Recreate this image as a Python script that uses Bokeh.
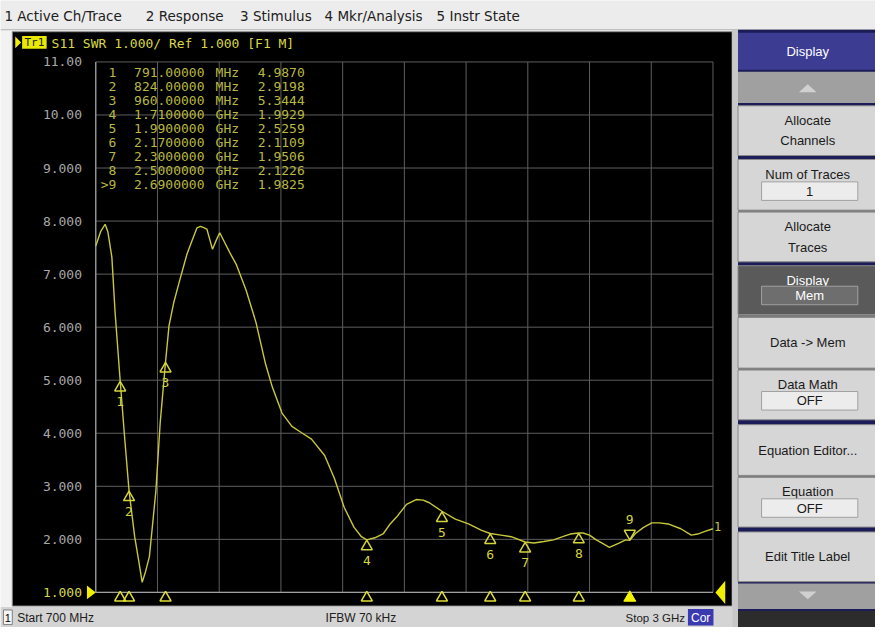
from bokeh.plotting import figure
from bokeh.models import Range1d
from bokeh.core.properties import value
from bokeh.embed import file_html
from bokeh.resources import INLINE

# ---------------- data ----------------
freq_mhz = [700, 718, 735, 745, 760, 772, 791, 809, 824, 845, 860, 873, 886, 900, 924,
            940, 960, 973, 990, 1010, 1040, 1060, 1077, 1090, 1100, 1114, 1125, 1135,
            1150, 1162, 1180, 1199, 1223, 1260, 1297, 1333, 1358, 1394, 1431, 1467,
            1504, 1553, 1589, 1626, 1662, 1690, 1710, 1740, 1772, 1797, 1821, 1858,
            1894, 1920, 1943, 1990, 2040, 2089, 2138, 2170, 2210, 2248, 2300, 2333,
            2370, 2406, 2440, 2468, 2500, 2516, 2540, 2565, 2590, 2614, 2650, 2675,
            2690, 2711, 2740, 2772, 2800, 2833, 2880, 2919, 2943, 2970, 3000]
swr = [7.53, 7.80, 7.94, 7.80, 7.32, 6.28, 4.99, 3.83, 2.92, 2.05, 1.60, 1.19, 1.40,
       1.68, 2.91, 4.19, 5.34, 6.03, 6.45, 6.83, 7.38, 7.65, 7.87, 7.90, 7.88, 7.85,
       7.65, 7.47, 7.65, 7.78, 7.60, 7.41, 7.19, 6.70, 6.09, 5.30, 4.87, 4.38, 4.13,
       4.01, 3.89, 3.58, 3.15, 2.60, 2.23, 2.05, 1.99, 2.03, 2.11, 2.29, 2.42, 2.66,
       2.75, 2.74, 2.69, 2.53, 2.38, 2.29, 2.17, 2.11, 2.08, 2.05, 1.95, 1.93, 1.96,
       1.99, 2.05, 2.10, 2.12, 2.12, 2.08, 1.99, 1.92, 1.85, 1.93, 1.99, 1.98, 2.11,
       2.22, 2.31, 2.31, 2.29, 2.20, 2.08, 2.10, 2.15, 2.20]

marker_ids = ["1", "2", "3", "4", "5", "6", "7", "8", "9"]
marker_freq_mhz = [791, 824, 960, 1710, 1990, 2170, 2300, 2500, 2690]
marker_freq_text = ["791.00000", "824.00000", "960.00000", "1.7100000", "1.9900000",
                    "2.1700000", "2.3000000", "2.5000000", "2.6900000"]
marker_units = ["MHz", "MHz", "MHz", "GHz", "GHz", "GHz", "GHz", "GHz", "GHz"]
marker_swr = [4.9870, 2.9198, 5.3444, 1.9929, 2.5259, 2.1109, 1.9506, 2.1226, 1.9825]
active_marker = "9"

y_ticks = [1, 2, 3, 4, 5, 6, 7, 8, 9, 10, 11]
y_tick_labels = ["1.000", "2.000", "3.000", "4.000", "5.000", "6.000", "7.000",
                 "8.000", "9.000", "10.00", "11.00"]
x_start_mhz, x_stop_mhz, x_divisions = 700, 3000, 10

trace_title = "S11  SWR 1.000/ Ref 1.000 [F1 M]"
menu_items = ["1 Active Ch/Trace", "2 Response", "3 Stimulus", "4 Mkr/Analysis", "5 Instr State"]
status_texts = ["Start 700 MHz", "IFBW 70 kHz", "Stop 3 GHz"]

# ---------------- geometry (reference pixel space) ----------------
REF_W, REF_H = 891, 643
GX0, GX1 = 97.0, 725.5
GY_TOP, GY_BOT = 63.0, 607.0
Y_MIN, Y_MAX = 1.0, 11.0
ppm = (GX1 - GX0) / (x_stop_mhz - x_start_mhz)
ppu = (GY_BOT - GY_TOP) / (Y_MAX - Y_MIN)

p = figure(width=875, height=627, x_range=Range1d(0, REF_W), y_range=Range1d(REF_H, 0),
           output_backend="svg", toolbar_location=None, tools="", min_border=0,
           x_axis_location=None, y_axis_location=None,
           background_fill_color="#f2f2f2", border_fill_color="#f2f2f2",
           outline_line_color=None)
p.grid.visible = False
p.extra_x_ranges = {"f": Range1d(x_start_mhz - GX0 / ppm, x_stop_mhz + (REF_W - GX1) / ppm)}
p.extra_y_ranges = {"s": Range1d(Y_MIN - (REF_H - GY_BOT) / ppu, Y_MAX + GY_TOP / ppu)}
D = dict(x_range_name="f", y_range_name="s")

UI = value("Liberation Sans")
MENU = value("DejaVu Sans")
MONO = value("DejaVu Sans Mono")


def box(l, t, r, b, fill, line=None, lw=1):
    p.quad(left=[l], right=[r], top=[t], bottom=[b], fill_color=fill,
           line_color=line, line_width=lw)


def txt(x, y, s, color="#000000", size="13px", font=UI, align="left", base="middle"):
    p.text(x=[x], y=[y], text=[s], text_color=color, text_font_size=size,
           text_font=font, text_align=align, text_baseline=base)


# menu bar
box(0, 0, REF_W, 30, "#ececec")
p.segment(x0=[0], y0=[30], x1=[REF_W], y1=[30], line_color="#b0b0b0")
menu_x = [4, 148, 244, 330, 444]
for mx, m in zip(menu_x, menu_items):
    txt(mx, 16, m, "#202020", "13.5px", MENU)

# black instrument window
box(12, 32, 745, 621, "#000000", "#8c8c8c")

# status bar
box(0, 622, 745, REF_H, "#d4d4d4")
box(3, 625, 12, 640, "#f4f4f4", "#808080")
txt(7.5, 633, "1", "#000000", "11px", align="center")
txt(17, 633, status_texts[0], "#202020", "12px")
txt(331, 633, status_texts[1], "#202020", "12px")
txt(697, 633, status_texts[2], "#202020", "11.5px", align="right")
box(700, 624, 726, 641, "#3a3ab0")
txt(713, 633, "Cor", "#ffffff", "12px", align="center")

# right soft-key panel
box(745, 30, 751, REF_H, "#c8c8c8")
box(751, 30, REF_W, REF_H, "#1c1c58")
box(751, 33, REF_W, 71, "#3c3c92")
txt(822, 52, "Display", "#ffffff", "13px", align="center")
box(751, 73, REF_W, 105, "#a0a0a0")
p.patch(x=[813, 822, 831], y=[94, 86, 94], fill_color="#d0d0d0", line_color=None)
for t, b in [(215, 217), (322, 325), (377, 379), (487, 489)]:
    box(751, t, REF_W, b, "#7a7a7a")


def key(t, b, lines, fill="#d6d6d6", color="#1a1a1a", field=None, field_fill="#ececec",
        field_color="#1a1a1a"):
    box(751, t, REF_W, b, fill, "#8a8a8a")
    n = len(lines)
    for i, s in enumerate(lines):
        yy = (t + b) / 2 - (10.5 * (n - 1)) + 21 * i if field is None else t + 15
        txt(822, yy, s, color, "13px", align="center")
    if field is not None:
        box(775, b - 29, 873, b - 10, field_fill, "#a0a0a0")
        txt(824, b - 19.5, field, field_color, "13px", align="center")


key(108, 159, ["Allocate", "Channels"])
key(163, 215, ["Num of Traces"], field="1")
key(217, 268, ["Allocate", "Traces"])
key(272, 322, ["Display"], fill="#5a5a5a", color="#ffffff", field="Mem",
    field_fill="#6e6e6e", field_color="#ffffff")
key(325, 377, ["Data -> Mem"])
key(379, 430, ["Data Math"], field="OFF")
key(435, 487, ["Equation Editor..."])
key(489, 540, ["Equation"], field="OFF")
key(545, 596, ["Edit Title Label"])
box(751, 598, REF_W, 624, "#a0a0a0")
p.patch(x=[813, 822, 831], y=[606, 614, 606], fill_color="#d0d0d0", line_color=None)
box(751, 626, REF_W, REF_H, "#2c2c2c")

# trace header
p.patch(x=[15, 21, 15], y=[37, 43, 49], fill_color="#f0f000", line_color=None)
box(22, 36.5, 47, 49.5, "#e8e800")
txt(34.5, 43.5, "Tr1", "#202020", "11px", MONO, align="center")
txt(52, 44, trace_title, "#d8d840", "13px", MONO)

# grid
xg = [x_start_mhz + (x_stop_mhz - x_start_mhz) * k / x_divisions for k in range(x_divisions + 1)]
p.segment(x0=xg, y0=[Y_MIN] * len(xg), x1=xg, y1=[Y_MAX] * len(xg),
          line_color="#5e5e5e", line_width=1, **D)
p.segment(x0=[x_start_mhz] * len(y_ticks), y0=y_ticks, x1=[x_stop_mhz] * len(y_ticks),
          y1=y_ticks, line_color="#5e5e5e", line_width=1, **D)
p.segment(x0=[x_start_mhz, x_start_mhz], y0=[Y_MIN, Y_MIN], x1=[x_stop_mhz, x_start_mhz],
          y1=[Y_MIN, Y_MAX], line_color="#a0a0a0", line_width=1.2, **D)

# y tick labels
tick_colors = ["#d8d850"] + ["#a8a8a8"] * (len(y_ticks) - 1)
p.text(x=[83] * len(y_ticks), y=y_ticks, text=y_tick_labels, text_color=tick_colors,
       text_font=MONO, text_font_size="13px", text_align="right", text_baseline="middle",
       y_range_name="s")

# reference level indicators
p.patch(x=[88, 97, 88], y=[600, 607, 614], fill_color="#f0f000", line_color=None)
p.patch(x=[738, 728, 738], y=[595, 607, 619], fill_color="#f0f000", line_color=None)

# marker table
row_y = [74 + 14.4 * i for i in range(len(marker_ids))]
ids = [(">" + m) if m == active_marker else m for m in marker_ids]
vals = ["%.4f" % v for v in marker_swr]
tcol = "#b8b840"
p.text(x=[118] * 9, y=row_y, text=ids, text_color=tcol, text_font=MONO,
       text_font_size="13px", text_align="right", text_baseline="middle")
p.text(x=[136] * 9, y=row_y, text=marker_freq_text, text_color=tcol, text_font=MONO,
       text_font_size="13px", text_align="left", text_baseline="middle")
p.text(x=[219] * 9, y=row_y, text=marker_units, text_color=tcol, text_font=MONO,
       text_font_size="13px", text_align="left", text_baseline="middle")
p.text(x=[262] * 9, y=row_y, text=vals, text_color=tcol, text_font=MONO,
       text_font_size="13px", text_align="left", text_baseline="middle")

# trace
p.line(freq_mhz, swr, line_color="#c8c83c", line_width=1.4, **D)
p.text(x=[x_stop_mhz], y=[swr[-1]], text=["1"], text_color="#c8c83c", text_font=MONO,
       text_font_size="12px", x_offset=1, y_offset=-2, text_baseline="middle", **D)

# markers on trace
mk_col = "#d4d43c"
up = [i for i, m in enumerate(marker_ids) if m != active_marker]
act = [i for i, m in enumerate(marker_ids) if m == active_marker]
p.scatter([marker_freq_mhz[i] for i in up], [marker_swr[i] - 7 / ppu for i in up],
          marker="triangle", size=11, fill_color=None, line_color=mk_col, line_width=1.5, **D)
p.text(x=[marker_freq_mhz[i] for i in up], y=[marker_swr[i] for i in up],
       text=[marker_ids[i] for i in up], text_color=mk_col, text_font=MONO,
       text_font_size="13px", text_align="center", text_baseline="middle", y_offset=21, **D)
p.scatter([marker_freq_mhz[i] for i in act], [marker_swr[i] + 7 / ppu for i in act],
          marker="inverted_triangle", size=11, fill_color=None, line_color=mk_col,
          line_width=1.5, **D)
p.text(x=[marker_freq_mhz[i] for i in act], y=[marker_swr[i] for i in act],
       text=[marker_ids[i] for i in act], text_color=mk_col, text_font=MONO,
       text_font_size="13px", text_align="center", text_baseline="middle", y_offset=-21, **D)

# marker position strip under the grid
strip_y = Y_MIN - 5.5 / ppu
p.scatter([marker_freq_mhz[i] for i in up], [strip_y] * len(up), marker="triangle", size=11,
          fill_color=None, line_color="#e0e030", line_width=1.5, **D)
p.scatter([marker_freq_mhz[i] for i in act], [strip_y] * len(act), marker="triangle", size=12,
          fill_color="#f4f400", line_color="#f4f400", **D)

open("out.html", "w").write(file_html(p, INLINE))
